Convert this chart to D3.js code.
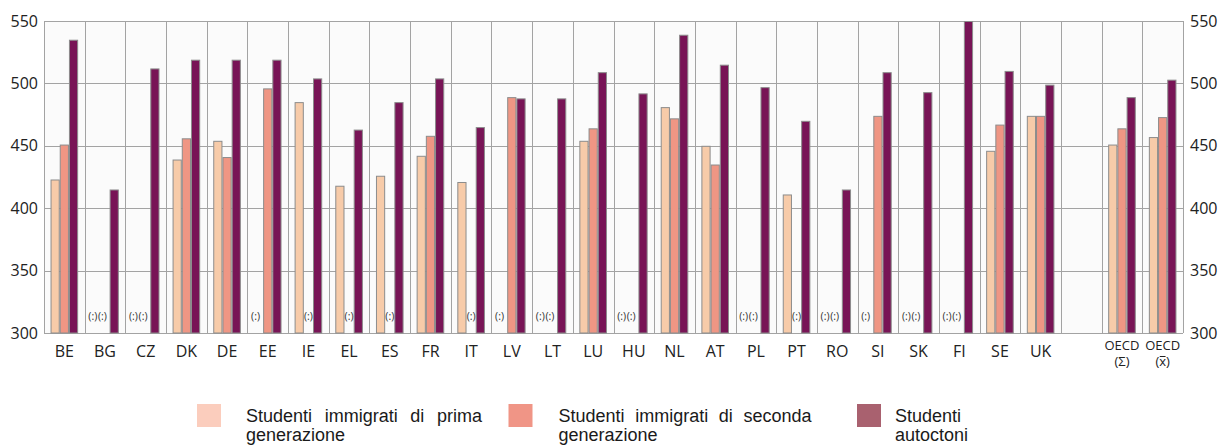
<!DOCTYPE html>
<html><head><meta charset="utf-8">
<script src="https://cdn.jsdelivr.net/npm/d3@7"></script>
<style>body{margin:0;background:#fff}svg{display:block}</style>
</head><body>
<svg id="c" width="1225" height="446"></svg>
<script>
const categories = ["BE","BG","CZ","DK","DE","EE","IE","EL","ES","FR","IT","LV","LT","LU","HU","NL","AT","PL","PT","RO","SI","SK","FI","SE","UK","","OECD|(Σ)","OECD|(x)"];
const firstGen  = [423,null,null,439,454,null,485,418,426,442,421,null,null,454,null,481,450,null,411,null,null,null,null,446,474,null,451,457];
const secondGen = [451,null,null,456,441,496,null,null,null,458,null,489,null,464,null,472,435,null,null,null,474,null,null,467,474,null,464,473];
const natives   = [535,415,512,519,519,519,504,463,485,504,465,488,488,509,492,539,515,497,470,415,509,493,550,510,499,null,489,503];
const yTicks = [300,350,400,450,500,550];
const seriesNames = ["Studenti immigrati di prima generazione","Studenti immigrati di seconda generazione","Studenti autoctoni"];
const barColors = ["#f7cba9","#ef9684","#781456"];
const legendColors = ["#fbcdbd","#f09586","#a9616f"];
const missingMark = "(:)";

const svg = d3.select("#c");
const L = 44, R = 1183, T = 21, B = 333;
const x0 = d3.scaleBand().domain(d3.range(categories.length)).range([L, R]).padding(0);
const x1 = d3.scaleBand().domain([0,1,2]).range([0, x0.bandwidth()]).paddingInner(0).paddingOuter(0.71);
const y = d3.scaleLinear().domain([300,550]).range([B, T]);

svg.append("rect").attr("x",L).attr("y",T).attr("width",R-L).attr("height",B-T).attr("fill","#fbfbfb");

// horizontal grid
svg.append("g").selectAll("line").data(yTicks).join("line")
  .attr("x1",L).attr("x2",R).attr("y1",d=>Math.round(y(d))+0.5).attr("y2",d=>Math.round(y(d))+0.5)
  .attr("stroke","#a3a3a3").attr("stroke-width",1);
// vertical grid
const vb = d3.range(categories.length+1).map(i => i < categories.length ? x0(i) : R);
svg.append("g").selectAll("line").data(vb).join("line")
  .attr("x1",d=>Math.round(d)+0.5).attr("x2",d=>Math.round(d)+0.5).attr("y1",T).attr("y2",B)
  .attr("stroke","#a3a3a3").attr("stroke-width",1);

// bars
const series = [firstGen, secondGen, natives];
const bars = [];
series.forEach((arr, s) => arr.forEach((v, i) => { if (v != null) bars.push({i, s, v}); }));
svg.append("g").selectAll("rect").data(bars).join("rect")
  .attr("x", d => x0(d.i) + x1(d.s) + 0.5)
  .attr("y", d => y(Math.min(d.v, 550)) + 0.5)
  .attr("width", x1.bandwidth() - 1)
  .attr("height", d => B - y(Math.min(d.v, 550)) - 0.5)
  .attr("fill", d => barColors[d.s])
  .attr("stroke", "#8c8c8c").attr("stroke-width", 1);

// missing markers
const marks = [];
categories.forEach((c, i) => {
  if (c === "") return;
  const lm = firstGen[i] == null, sm = secondGen[i] == null;
  if (lm) marks.push({x: x0(i) + x1(0) + x1.bandwidth()/2 - 3});
  if (sm) marks.push({x: x0(i) + x1(1) + x1.bandwidth()/2 - (lm ? 2.6 : 0)});
});
svg.append("g").selectAll("text").data(marks).join("text")
  .attr("x", d => d.x).attr("y", 320).attr("text-anchor","middle")
  .attr("font-family","Open Sans").attr("font-size",10.5).attr("fill","#333")
  .text(missingMark);

// axes labels
const axL = d3.axisLeft(y).tickValues(yTicks).tickSize(0).tickPadding(6);
const gl = svg.append("g").attr("transform",`translate(${L},0)`).call(axL);
const axR = d3.axisRight(y).tickValues(yTicks).tickSize(0).tickPadding(7);
const gr = svg.append("g").attr("transform",`translate(${R},0)`).call(axR);
[gl, gr].forEach(g => {
  g.select(".domain").remove();
  g.selectAll("text").attr("font-family","Open Sans").attr("font-size",16).attr("fill","#222");
});

// category labels
const cl = svg.append("g");
categories.forEach((c, i) => {
  if (c === "") return;
  const cx = x0(i) + x0.bandwidth()/2;
  if (c.includes("|")) {
    const [a, b] = c.split("|");
    cl.append("text").attr("x", cx).attr("y", 350).attr("text-anchor","middle")
      .attr("font-family","Open Sans").attr("font-size",13).attr("fill","#222").text(a);
    const t = cl.append("text").attr("x", cx).attr("y", 366).attr("text-anchor","middle")
      .attr("font-family","Open Sans").attr("font-size",13).attr("fill","#222").text(b);
    if (b === "(x)") {
      const node = t.node();
      const ext = node.getExtentOfChar(1);
      cl.append("line").attr("x1", ext.x + 0.5).attr("x2", ext.x + ext.width - 0.5)
        .attr("y1", 356.5).attr("y2", 356.5).attr("stroke","#222").attr("stroke-width",1);
    }
  } else {
    cl.append("text").attr("x", cx).attr("y", 356.5).attr("text-anchor","middle")
      .attr("font-family","Open Sans").attr("font-size",16).attr("fill","#222").text(c);
  }
});

// legend
const legendItems = [
  {sx:197, tx:246, w:236, lines:["Studenti immigrati di prima","generazione"]},
  {sx:508.5, tx:558.5, w:253, lines:["Studenti immigrati di seconda","generazione"]},
  {sx:857, tx:895, w:0, lines:["Studenti","autoctoni"]}
];
const lg = svg.append("g");
legendItems.forEach((it, k) => {
  lg.append("rect").attr("x", it.sx).attr("y", 404).attr("width", 24).attr("height", 23)
    .attr("fill", legendColors[k]).attr("title", seriesNames[k]);
  it.lines.forEach((ln, j) => {
    const t = lg.append("text").attr("y", 421.5 + j*19.5)
      .attr("font-family","Liberation Sans").attr("font-size",18).attr("fill","#1a1a1a");
    const words = ln.split(" ");
    if (j === 0 && words.length > 1 && it.w > 0) {
      const spans = words.map(w => t.append("tspan").text(w));
      const widths = spans.map(s => s.node().getComputedTextLength());
      const gap = (it.w - d3.sum(widths)) / (words.length - 1);
      let xx = it.tx;
      spans.forEach((s, q) => { s.attr("x", xx); xx += widths[q] + gap; });
    } else {
      t.attr("x", it.tx).text(ln);
    }
  });
});
</script>
</body></html>
